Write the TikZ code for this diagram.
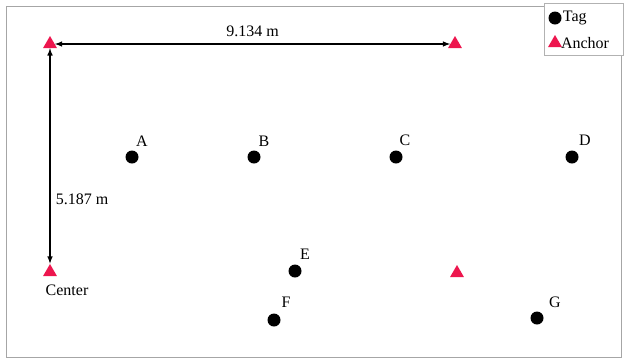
\documentclass[tikz,border=0pt]{standalone}
\usepackage{fontspec}
\setmainfont{Liberation Serif}
\usetikzlibrary{arrows,shapes.geometric,positioning}
\definecolor{ancred}{RGB}{237,22,78}
\tikzset{
  tagdot/.style={circle,fill=black,inner sep=0pt,minimum size=13pt},
  ancmark/.style={regular polygon,regular polygon sides=3,fill=ancred,inner sep=0pt,minimum size=16pt},
  lbl/.style={font=\fontsize{16}{18}\selectfont,inner sep=0pt},
  dimline/.style={latex-latex,line width=1.5pt}
}
\begin{document}
\begin{tikzpicture}[x=1pt,y=-1pt]
\useasboundingbox (0,0) rectangle (624,360);
\draw[gray!70] (6,6) rectangle (621,357);
%anchors
\node[ancmark] (anc1) at (50,44) {};
\node[ancmark] (anc2) at (455,44) {};
\node[ancmark] (anc3) at (50,272) {};
\node[ancmark] (anc4) at (457,273) {};
\draw[dimline] (anc1.east) -- (anc2.west) node[lbl,midway,above=7pt] {9.134 m};
\draw[dimline] (anc1.south) -- (anc3.north) node[lbl,pos=0.7,right=5pt] {5.187 m};
\node[lbl] (center) at (67,290) {Center};
%tags
\foreach \n/\x/\y/\lx/\ly in {A/132/157/142/141,B/254/157/264/141,C/396/157/405/140,D/572/157/585/140,
  E/295/271/305/254,F/274/320/286/302,G/537/318/555/302} {
  \node[tagdot] (tag\n) at (\x,\y) {};
  \node[lbl] (lbl\n) at (\lx,\ly) {\n};
}
%legend
\draw[gray!60,fill=white] (544,3) rectangle (623,55);
\node[tagdot] (legtag) at (555,18) {};
\node[lbl,right=1pt of legtag] {Tag};
\node[ancmark] (leganc) at (555,43) {};
\node[lbl,right=1pt of leganc] {Anchor};
\end{tikzpicture}
\end{document}
